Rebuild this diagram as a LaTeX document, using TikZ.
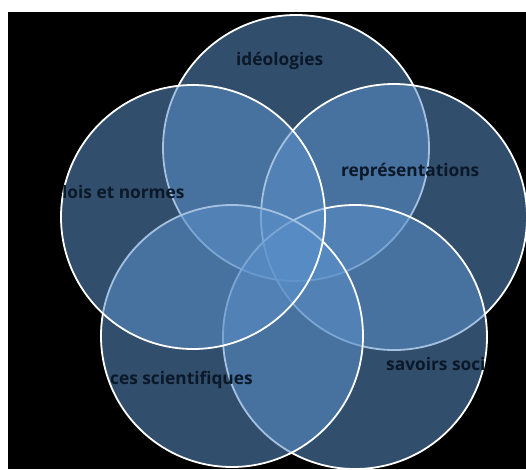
\documentclass[tikz,border=0pt]{standalone}
\usepackage{fontspec}
\setmainfont{Open Sans}
\definecolor{circfill}{HTML}{5A8FC8}
\definecolor{txtc}{HTML}{0B1828}
\begin{document}
\begin{tikzpicture}[x=1pt,y=-1pt,
  venn/.style={circle,inner sep=0pt,minimum size=#1,draw=white,line width=1.8pt,fill=circfill,fill opacity=0.55},
  lbl/.style={anchor=base west,inner sep=0pt,text=txtc,font=\fontsize{17.3}{19}\selectfont\bfseries}]
\useasboundingbox (0,0) rectangle (526,469);
\fill[white] (0,0) rectangle (526,469);
\fill[black] (8,12) rectangle (526,469);
\begin{scope}
\clip (8,12) rectangle (526,469);
\node[venn=266pt] (top) at (296,148) {};
\node[venn=266pt] (right) at (394,217) {};
\node[venn=264pt] (br) at (355,337) {};
\node[venn=262pt] (bl) at (232,336) {};
\node[venn=264pt] (left) at (193,217) {};
\end{scope}
\node[lbl] (t1) at (236,65) {idéologies};
\node[lbl] (t2) at (62,198) {lois et normes};
\node[lbl] (t3) at (341,176) {représentations};
\node[lbl] (t4) at (110,384) {ces scientifiques};
\node[lbl] (t5) at (386,370) {savoirs soci};
\end{tikzpicture}
\end{document}
